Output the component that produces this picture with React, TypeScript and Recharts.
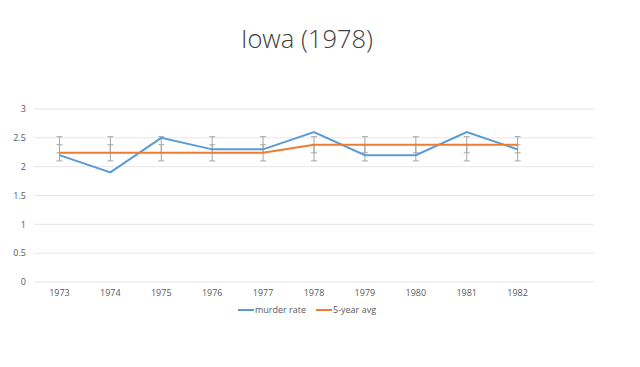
import { LineChart, Line, XAxis, YAxis, CartesianGrid, Legend, ErrorBar } from 'recharts';

const years = ['1973', '1974', '1975', '1976', '1977', '1978', '1979', '1980', '1981', '1982', ''];
const murderRate = [2.2, 1.9, 2.5, 2.3, 2.3, 2.6, 2.2, 2.2, 2.6, 2.3, null];
const fiveYearAvg = [2.24, 2.24, 2.24, 2.24, 2.24, 2.38, 2.38, 2.38, 2.38, 2.38, null];
// error bars drawn around the series mean (inner +-1 sd, outer +-3 sd)
const barCenter = 2.31;
const innerErr = 0.07;
const outerErr = 0.21;
const yTicks = [0, 0.5, 1, 1.5, 2, 2.5, 3];
const seriesNames = ['murder rate', '5-year avg'];
const seriesColors = ['#5B9BD5', '#ED7D31'];

const data = years.map((year, i) => ({
  year,
  rate: murderRate[i],
  avg: fiveYearAvg[i],
  center: murderRate[i] === null ? null : barCenter,
  inner: innerErr,
  outer: outerErr,
}));

const font = 'Open Sans, sans-serif';
const tickStyle = { fontSize: 9, fill: '#595959', fontFamily: font };

function LegendContent() {
  return (
    <div style={{ display: 'flex', justifyContent: 'center', gap: 10, fontSize: 9, fontFamily: font, color: '#595959' }}>
      {seriesNames.map((name, i) => (
        <div key={name} style={{ display: 'flex', alignItems: 'center' }}>
          <span style={{ display: 'inline-block', width: 16, height: 2, background: seriesColors[i], marginRight: 1 }} />
          <span>{name}</span>
        </div>
      ))}
    </div>
  );
}

export default function App() {
  return (
    <div style={{ position: 'absolute', left: 0, top: 0, width: 640, height: 367, background: '#fff' }}>
      <div
        style={{
          position: 'absolute',
          top: 21,
          left: -13,
          width: 640,
          textAlign: 'center',
          fontFamily: font,
          fontWeight: 300,
          fontSize: 25.5,
          color: '#404040',
        }}
      >
        Iowa (1978)
      </div>
      <LineChart width={640} height={367} data={data} margin={{ top: 109, right: 46, bottom: 65, left: 0 }}>
        <CartesianGrid vertical={false} stroke="#e6e6e6" />
        <XAxis
          dataKey="year"
          scale="band"
          axisLine={false}
          tickLine={false}
          tick={tickStyle}
          tickSize={0}
          tickMargin={8}
          interval={0}
          height={20}
        />
        <YAxis
          domain={[0, 3]}
          ticks={yTicks}
          width={34}
          axisLine={false}
          tickLine={false}
          tickSize={0}
          tickMargin={8}
          tick={tickStyle}
        />
        <Line dataKey="center" stroke="none" dot={false} legendType="none" isAnimationActive={false}>
          <ErrorBar dataKey="outer" width={3} stroke="#a6a6a6" strokeWidth={1} direction="y" />
        </Line>
        <Line dataKey="center" stroke="none" dot={false} legendType="none" isAnimationActive={false}>
          <ErrorBar dataKey="inner" width={3} stroke="#a6a6a6" strokeWidth={1} direction="y" />
        </Line>
        <Line
          dataKey="rate"
          name={seriesNames[0]}
          stroke={seriesColors[0]}
          strokeWidth={2}
          dot={false}
          isAnimationActive={false}
        />
        <Line
          dataKey="avg"
          name={seriesNames[1]}
          stroke={seriesColors[1]}
          strokeWidth={2}
          dot={false}
          isAnimationActive={false}
        />
        <Legend
          verticalAlign="middle"
          align="center"
          content={<LegendContent />}
          wrapperStyle={{ top: 303, left: 0, width: 614, height: 16 }}
        />
      </LineChart>
    </div>
  );
}
